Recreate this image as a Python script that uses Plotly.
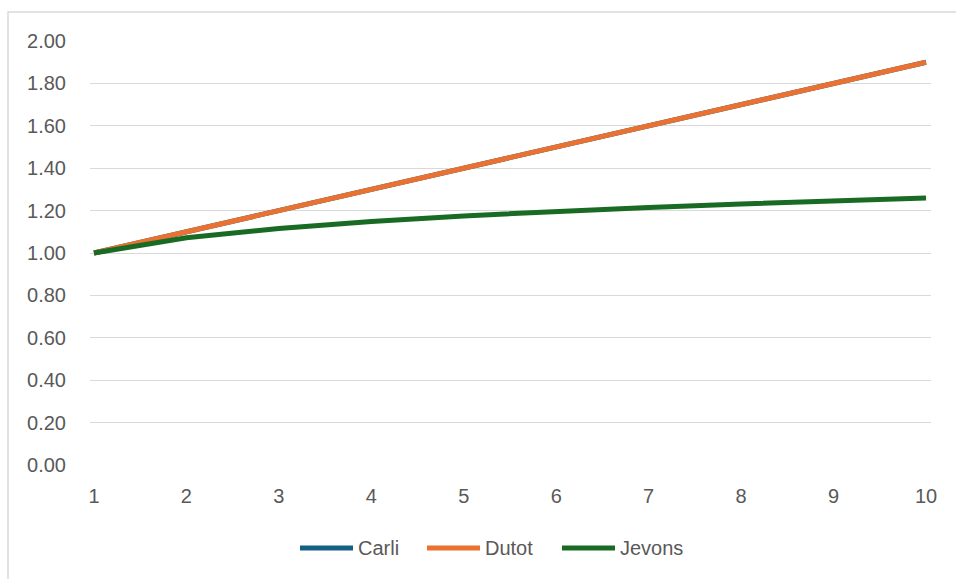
import plotly.graph_objects as go

# Index values over ten periods
periods = [1, 2, 3, 4, 5, 6, 7, 8, 9, 10]
carli = [1.00, 1.10, 1.20, 1.30, 1.40, 1.50, 1.60, 1.70, 1.80, 1.90]
dutot = [1.00, 1.10, 1.20, 1.30, 1.40, 1.50, 1.60, 1.70, 1.80, 1.90]
jevons = [1.000, 1.072, 1.116, 1.149, 1.175, 1.196, 1.215, 1.231, 1.246, 1.259]

series_names = ["Carli", "Dutot", "Jevons"]
series_colors = ["#156082", "#E97132", "#196B24"]
y_ticks = [0.0, 0.2, 0.4, 0.6, 0.8, 1.0, 1.2, 1.4, 1.6, 1.8, 2.0]

W, H = 956, 579
ML, MR, MT, MB = 90, 25, 41, 114
PW, PH = W - ML - MR, H - MT - MB
FONT = "Liberation Sans, Arial, sans-serif"
TEXT_COLOR = "#595959"


def px_x(p):
    return (p - ML) / PW


def px_y(p):
    return 1 - (p - MT) / PH


fig = go.Figure()
for name, values, color in zip(series_names, [carli, dutot, jevons], series_colors):
    fig.add_trace(go.Scatter(
        x=periods, y=values, name=name, mode="lines",
        line=dict(color=color, width=5), showlegend=False,
    ))

# light frame around the whole chart
fig.add_shape(type="rect", xref="paper", yref="paper",
              x0=px_x(8), x1=px_x(W + 5), y0=px_y(H + 5), y1=px_y(12),
              line=dict(color="#d9d9d9", width=1.5), fillcolor="rgba(0,0,0,0)",
              layer="below")

# legend row below the plot: a thick swatch then the series name
legend_starts = [298, 425, 560]
swatch_len = 57
legend_y = px_y(548)
for start, name, color in zip(legend_starts, series_names, series_colors):
    fig.add_shape(type="line", xref="paper", yref="paper",
                  x0=px_x(start + 2), x1=px_x(start + swatch_len - 2),
                  y0=legend_y, y1=legend_y,
                  line=dict(color=color, width=5))
    fig.add_annotation(xref="paper", yref="paper", x=px_x(start + swatch_len + 1),
                       y=legend_y, text=name, showarrow=False,
                       xanchor="left", yanchor="middle",
                       font=dict(family=FONT, size=20, color=TEXT_COLOR))

fig.update_layout(
    width=W, height=H,
    margin=dict(l=ML, r=MR, t=MT, b=MB),
    paper_bgcolor="white", plot_bgcolor="white",
    font=dict(family=FONT, size=20, color=TEXT_COLOR),
    showlegend=False,
    xaxis=dict(range=[0.957, 10.054], tickmode="array", tickvals=periods,
               ticktext=[str(p) for p in periods], showgrid=False, zeroline=False,
               showline=False, ticks="", ticklabelstandoff=17),
    yaxis=dict(range=[0, 2.0], tickmode="array", tickvals=y_ticks,
               ticktext=[f"{v:.2f}" for v in y_ticks], showgrid=True,
               gridcolor="#d9d9d9", gridwidth=1, zeroline=False, showline=False,
               ticks="", ticklabelstandoff=23),
)

fig.write_html("out.html")
